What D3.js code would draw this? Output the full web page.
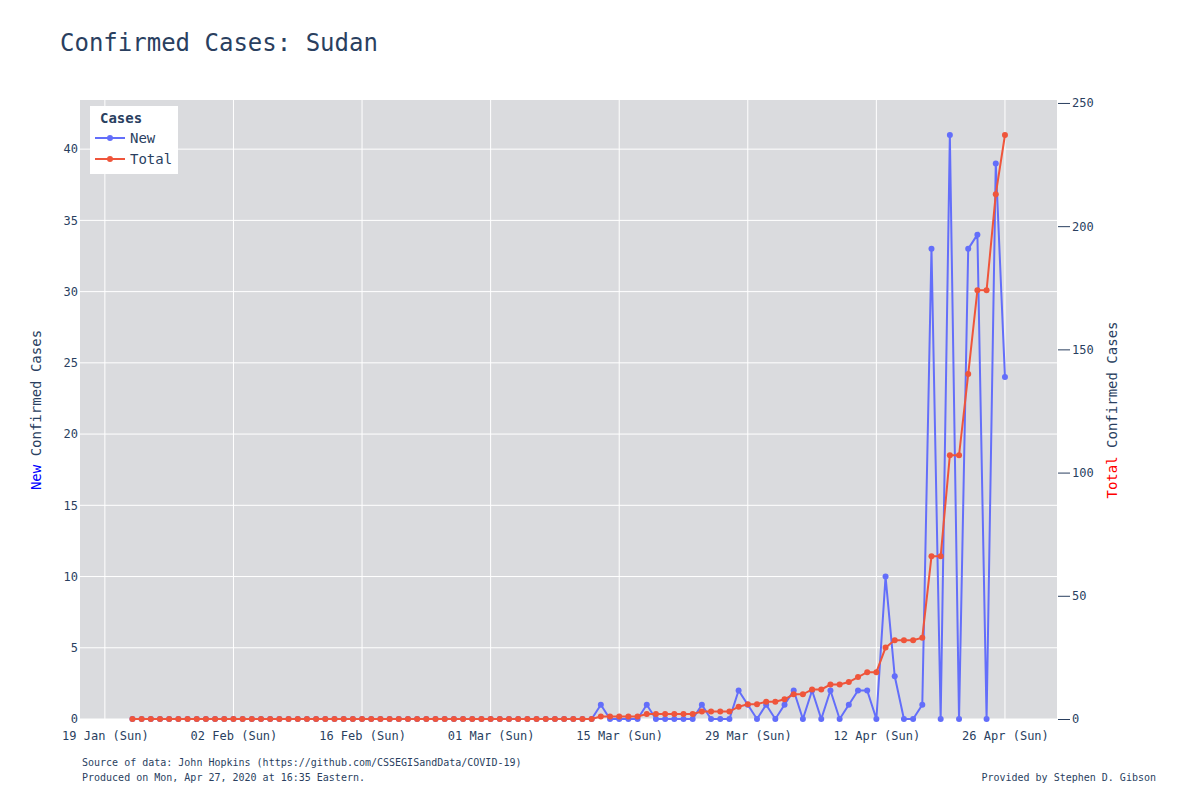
<!DOCTYPE html>
<html><head><meta charset="utf-8">
<script src="https://cdn.jsdelivr.net/npm/d3@7"></script>
<style>body{margin:0;background:#fff;font-family:"DejaVu Sans Mono",monospace;}</style>
</head><body><svg id="chart" width="1200" height="800"></svg>
<script>
// daily new cases, starting 22 Jan 2020
var startDate = new Date(2020, 0, 22);
var newCases = [
  0,0,0,0,0,0,0,0,0,0, 0,0,0,0,0,0,0,0,0,0,
  0,0,0,0,0,0,0,0,0,0, 0,0,0,0,0,0,0,0,0,0,
  0,0,0,0,0,0,0,0,0,0, 0,1,0,0,0,0,1,0,0,0,
  0,0,1,0,0,0,2,1,0,1, 0,1,2,0,2,0,2,0,1,2,
  2,0,10,3,0,0,1,33,0,41, 0,33,34,0,39,24];
var totalCases = [
  0,0,0,0,0,0,0,0,0,0, 0,0,0,0,0,0,0,0,0,0,
  0,0,0,0,0,0,0,0,0,0, 0,0,0,0,0,0,0,0,0,0,
  0,0,0,0,0,0,0,0,0,0, 0,1,1,1,1,1,2,2,2,2,
  2,2,3,3,3,3,5,6,6,7, 7,8,10,10,12,12,14,14,15,17,
  19,19,29,32,32,32,33,66,66,107, 107,140,174,174,213,237];
var leftTicks = [0,5,10,15,20,25,30,35,40];
var rightTicks = [0,50,100,150,200,250];
var tickDates = ["2020-01-19","2020-02-02","2020-02-16","2020-03-01","2020-03-15","2020-03-29","2020-04-12","2020-04-26"];

var days = newCases.map(function(d, i){ return d3.timeDay.offset(startDate, i); });

var svg = d3.select('#chart');
var pLeft = 80, pRight = 1057, pTop = 100, pBottom = 719;
var blue = '#636efa', red = '#ef553b';

var xScale = d3.scaleTime()
  .domain([d3.timeHour.offset(new Date(2020,0,19), -65), d3.timeHour.offset(new Date(2020,3,26), 136)])
  .range([pLeft, pRight]);
var yLeft = d3.scaleLinear().domain([0, 43.45]).range([pBottom, pTop]);
var yRight = d3.scaleLinear().domain([0, 251.2]).range([pBottom, pTop]);

svg.append('rect').attr('x', pLeft).attr('y', pTop).attr('width', pRight-pLeft).attr('height', pBottom-pTop).attr('fill', '#dadbde');

var parse = d3.timeParse('%Y-%m-%d');
var tDates = tickDates.map(parse);

var grid = svg.append('g').attr('stroke', '#fff').attr('stroke-width', 1);
tDates.forEach(function(d){
  grid.append('line').attr('x1', xScale(d)).attr('x2', xScale(d)).attr('y1', pTop).attr('y2', pBottom);
});
leftTicks.forEach(function(v){
  grid.append('line').attr('x1', pLeft).attr('x2', pRight).attr('y1', yLeft(v)).attr('y2', yLeft(v));
});

var xAxis = svg.append('g').attr('transform', 'translate(0,' + pBottom + ')')
  .call(d3.axisBottom(xScale).tickValues(tDates).tickFormat(d3.timeFormat('%d %b (%a)')).tickSize(0).tickPadding(12));
var yAx = svg.append('g').attr('transform', 'translate(' + pLeft + ',0)')
  .call(d3.axisLeft(yLeft).tickValues(leftTicks).tickSize(0).tickPadding(2));
var yAx2 = svg.append('g').attr('transform', 'translate(' + (pRight + 1) + ',0)')
  .call(d3.axisRight(yRight).tickValues(rightTicks).tickSize(12).tickPadding(2));
[xAxis, yAx, yAx2].forEach(function(a){
  a.select('.domain').remove();
  a.selectAll('text').attr('font-family', 'DejaVu Sans Mono, monospace').attr('font-size', 12).attr('fill', '#2a3f5f');
  a.selectAll('line').attr('stroke', '#2a3f5f');
});

function drawSeries(vals, y, color) {
  var line = d3.line().x(function(d, i){ return xScale(days[i]); }).y(function(d){ return y(d); });
  svg.append('path').datum(vals).attr('d', line).attr('fill', 'none').attr('stroke', color).attr('stroke-width', 2);
  svg.append('g').selectAll('circle').data(vals).enter().append('circle')
    .attr('cx', function(d, i){ return xScale(days[i]); })
    .attr('cy', function(d){ return y(d); })
    .attr('r', 3).attr('fill', color);
}
drawSeries(newCases, yLeft, blue);
drawSeries(totalCases, yRight, red);

// title
svg.append('text').attr('x', 60).attr('y', 51).attr('font-size', 24).attr('fill', '#2a3f5f').text('Confirmed Cases: Sudan');

// axis titles
var lt = svg.append('text').attr('transform', 'translate(41,410) rotate(-90)').attr('text-anchor', 'middle').attr('font-size', 14).attr('fill', '#2a3f5f');
lt.append('tspan').attr('fill', 'blue').text('New');
lt.append('tspan').text(' Confirmed Cases');
var rt = svg.append('text').attr('transform', 'translate(1117,410) rotate(-90)').attr('text-anchor', 'middle').attr('font-size', 14).attr('fill', '#2a3f5f');
rt.append('tspan').attr('fill', 'red').text('Total');
rt.append('tspan').text(' Confirmed Cases');

// legend
var lg = svg.append('g');
lg.append('rect').attr('x', 90).attr('y', 106).attr('width', 88).attr('height', 68).attr('fill', '#fff');
lg.append('text').attr('x', 100).attr('y', 123).attr('font-size', 14).attr('font-weight', 'bold').attr('fill', '#2a3f5f').text('Cases');
[['New', blue, 138], ['Total', red, 159]].forEach(function(e){
  lg.append('line').attr('x1', 95).attr('x2', 125).attr('y1', e[2]).attr('y2', e[2]).attr('stroke', e[1]).attr('stroke-width', 2);
  lg.append('circle').attr('cx', 110).attr('cy', e[2]).attr('r', 3).attr('fill', e[1]);
  lg.append('text').attr('x', 130).attr('y', e[2] + 5).attr('font-size', 14).attr('fill', '#2a3f5f').text(e[0]);
});

// footer
svg.append('text').attr('x', 82).attr('y', 766).attr('font-size', 10).attr('fill', '#2a3f5f').text('Source of data: John Hopkins (https://github.com/CSSEGISandData/COVID-19)');
svg.append('text').attr('x', 82).attr('y', 781).attr('font-size', 10).attr('fill', '#2a3f5f').text('Produced on Mon, Apr 27, 2020 at 16:35 Eastern.');
svg.append('text').attr('x', 1156).attr('y', 781).attr('text-anchor', 'end').attr('font-size', 10).attr('fill', '#2a3f5f').text('Provided by Stephen D. Gibson');
</script></body></html>
